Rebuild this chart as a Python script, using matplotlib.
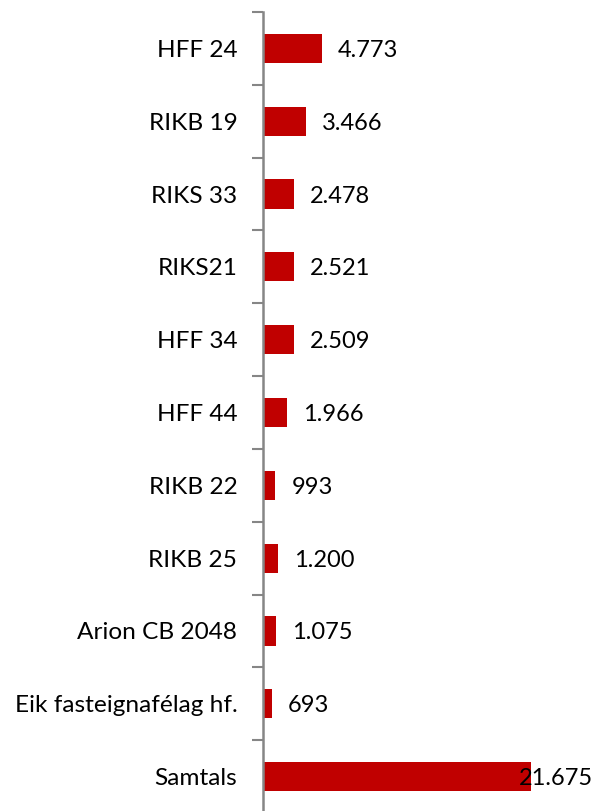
import matplotlib.pyplot as plt

# data
flokkar = ["HFF 24", "RIKB 19", "RIKS 33", "RIKS21", "HFF 34", "HFF 44",
           "RIKB 22", "RIKB 25", "Arion CB 2048", "Eik fasteignafélag hf.", "Samtals"]
gildi = [4773, 3466, 2478, 2521, 2509, 1966, 993, 1200, 1075, 693, 21675]

plt.rcParams['font.family'] = ['Lato', 'DejaVu Sans']
W, H = 598, 811
fig = plt.figure(figsize=(W/100, H/100), dpi=100)
# plot area placed in pixels like the excel chart
ax = fig.add_axes([263/W, -2/H, 309/W, 801/H])

pos = list(range(len(flokkar)))
ax.barh(pos, gildi, height=0.4, color="#C00000")
ax.set_ylim(len(flokkar)-0.5, -0.5)
ax.set_xlim(0, 25000)

def fmt(v):
    return "{:,}".format(v).replace(",", ".")

for i, v in zip(pos, gildi):
    if v > 20000:
        # excel pushes the label back inside the chart area
        ax.annotate(fmt(v), xy=(593/W, i), xycoords=('figure fraction', 'data'),
                    xytext=(0, -2), textcoords='offset pixels',
                    ha='right', va='center', fontsize=17, color='black')
    else:
        ax.annotate(fmt(v), xy=(v, i), xytext=(16, -2), textcoords='offset pixels',
                    ha='left', va='center', fontsize=17, color='black')

# category labels between ticks, ticks on the boundaries
ax.set_yticks(pos)
ax.set_yticklabels(flokkar, fontsize=17.6)
ax.tick_params(axis='y', which='major', length=0, pad=18.5)
ax.set_yticks([p - 0.5 for p in range(len(flokkar)+1)], minor=True)
ax.tick_params(axis='y', which='minor', length=8, width=1.5, color='#868686', direction='out')

ax.set_xticks([])
for s in ['top', 'right', 'bottom']:
    ax.spines[s].set_visible(False)
ax.spines['left'].set_color('#868686')
ax.spines['left'].set_linewidth(1.8)
ax.patch.set_visible(False)

fig.savefig("out.png", dpi=100)
